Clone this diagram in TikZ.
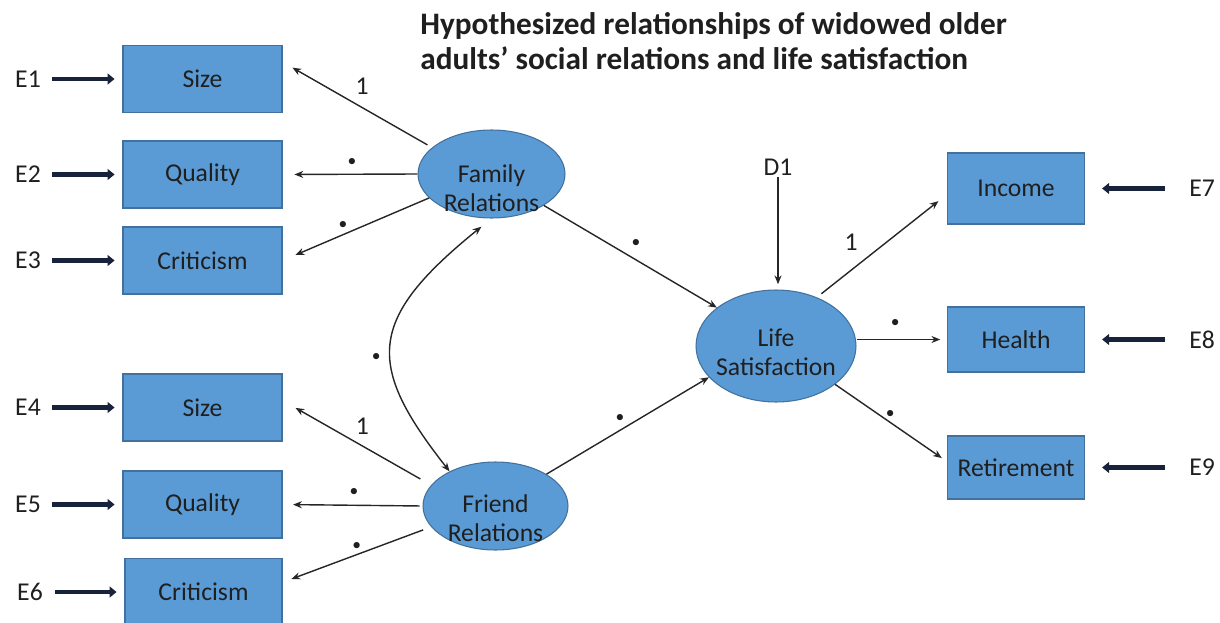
\documentclass[tikz,border=0pt]{standalone}
\usepackage{fontspec}
\setmainfont{Carlito}
\usetikzlibrary{arrows.meta,shapes.geometric}
\definecolor{boxblue}{HTML}{5B9BD5}
\definecolor{boxedge}{HTML}{41719C}
\definecolor{errnavy}{HTML}{17233A}
\begin{document}
\begin{tikzpicture}[x=0.02cm,y=-0.02cm,
  every node/.style={font=\fontsize{14.6}{16.5}\selectfont,text=black!88},
  obs/.style={draw=boxedge,fill=boxblue,line width=0.6pt,minimum width=3.18cm,minimum height=1.34cm},
  obsr/.style={obs,minimum width=2.75cm,minimum height=1.3cm},
  latent/.style={ellipse,draw=boxedge,fill=boxblue,line width=0.6pt,inner sep=0pt},
  errlab/.style={inner sep=1pt},
  errarrow/.style={errnavy,line width=2.6pt,-{Triangle[length=4pt,width=6.2pt]}},
  load/.style={black!85,line width=0.8pt,-{Stealth[length=5pt,width=4pt]}},
  coef/.style={inner sep=0pt},
  dot/.style={inner sep=0pt,font=\fontsize{10}{10}\selectfont}]
\useasboundingbox (0,0) rectangle (1220,622);

\node[anchor=north west,inner sep=0pt,align=left,font=\fontsize{17.8}{20}\selectfont\bfseries] (title) at (420,12)
  {Hypothesized relationships of widowed older\\adults’ social relations and life satisfaction};

% latent variables
\node[latent,minimum width=2.94cm,minimum height=1.76cm,
  label={[align=center,yshift=-8pt]center:{Family\\Relations}}] (fam) at (491.5,174) {};
\node[latent,minimum width=2.9cm,minimum height=1.76cm,
  label={[align=center,yshift=-7pt]center:{Friend\\Relations}}] (fri) at (495.5,506) {};
\node[latent,minimum width=3.2cm,minimum height=2.24cm,
  label={[align=center,yshift=-3.4pt]center:{Life\\Satisfaction}}] (lif) at (776,346) {};

% indicators
\node[obs] (size1) at (202.5,79) {Size};
\node[obs] (qual1) at (202.5,174.5) {Quality};
\node[obs] (crit1) at (202.5,260.5) {Criticism};
\node[obs] (size2) at (202.5,407.5) {Size};
\node[obs] (qual2) at (202.5,504.5) {Quality};
\node[obs,minimum width=3.14cm] (crit2) at (203.5,592) {Criticism};
\node[obsr,minimum height=1.42cm] (inc) at (1016,188.5) {Income};
\node[obsr] (hea) at (1016,339.5) {Health};
\node[obsr,minimum height=1.26cm] (ret) at (1016,467.5) {Retirement};

% errors
\node[errlab] (e1) at (28,79) {E1};
\node[errlab] (e2) at (28,174.5) {E2};
\node[errlab] (e3) at (28,260.5) {E3};
\node[errlab] (e4) at (28,407.5) {E4};
\node[errlab] (e5) at (28,504.5) {E5};
\node[errlab] (e6) at (30,592) {E6};
\node[errlab] (e7) at (1202,188.5) {E7};
\node[errlab] (e8) at (1202,339.5) {E8};
\node[errlab] (e9) at (1202,467.5) {E9};
\node[errlab] (d1) at (778,167) {D1};

\draw[errarrow,shorten <=5.2pt,shorten >=4.5pt] (e1) -- (size1);
\draw[errarrow,shorten <=5.2pt,shorten >=4.5pt] (e2) -- (qual1);
\draw[errarrow,shorten <=5.2pt,shorten >=4.5pt] (e3) -- (crit1);
\draw[errarrow,shorten <=5.2pt,shorten >=4.5pt] (e4) -- (size2);
\draw[errarrow,shorten <=5.2pt,shorten >=4.5pt] (e5) -- (qual2);
\draw[errarrow,shorten <=6pt,shorten >=4.5pt] (e6) -- (crit2);
\draw[errarrow,shorten <=12.5pt,shorten >=9.6pt] (e7) -- (inc);
\draw[errarrow,shorten <=12.5pt,shorten >=9.6pt] (e8) -- (hea);
\draw[errarrow,shorten <=12.5pt,shorten >=9.6pt] (e9) -- (ret);

% loadings
\draw[load,shorten <=3pt,shorten >=6.5pt] (fam.156) -- node[coef,pos=.467,yshift=12pt] {1} (size1.12);
\draw[load,shorten >=6.8pt] (fam.west) -- node[dot,pos=.485,yshift=6.8pt] {\textbullet} (qual1.east);
\draw[load,shorten >=8pt] (fam.201.5) -- node[dot,pos=.588,yshift=5.5pt] {\textbullet} (crit1.east);
\draw[load,shorten <=7pt,shorten >=8.5pt] (fri.162.6) -- node[coef,pos=.463,yshift=11pt] {1} (size2.5);
\draw[load,shorten <=1.7pt,shorten >=6pt] (fri.west) -- node[dot,pos=.489,yshift=7pt] {\textbullet} (qual2.east);
\draw[load,shorten <=4.8pt,shorten >=5.4pt] (fri.198.6) -- node[dot,pos=.5,yshift=4.4pt] {\textbullet} (crit2.7);
\draw[load,shorten <=3.3pt,shorten >=6pt] (lif.50) -- node[coef,pos=.263,yshift=16.2pt] {1} (inc.185);
\draw[load,shorten >=3.7pt] (lif.east |- hea.west) -- node[dot,pos=.43,yshift=9pt] {\textbullet} (hea.west);
\draw[load,shorten >=3.4pt] (lif.327) -- node[dot,pos=.495,yshift=4.8pt] {\textbullet} (ret.175);

% structural paths
\draw[load] (fam.329) -- node[dot,pos=.533,yshift=9.6pt] {\textbullet} (lif.147);
\draw[load] (fri.32.2) -- node[dot,pos=.453,yshift=6.8pt] {\textbullet} (lif.205);
\draw[load,shorten >=3pt] (d1) -- (d1 |- lif.north);
\draw[load,{Stealth[length=5pt,width=4pt]}-{Stealth[length=5pt,width=4pt]},shorten <=7.4pt]
  (fam.south) .. controls (366,320) and (366,365) .. node[dot,pos=.5,xshift=-9pt,yshift=-8.3pt] {\textbullet} (fri.143);
\end{tikzpicture}
\end{document}
